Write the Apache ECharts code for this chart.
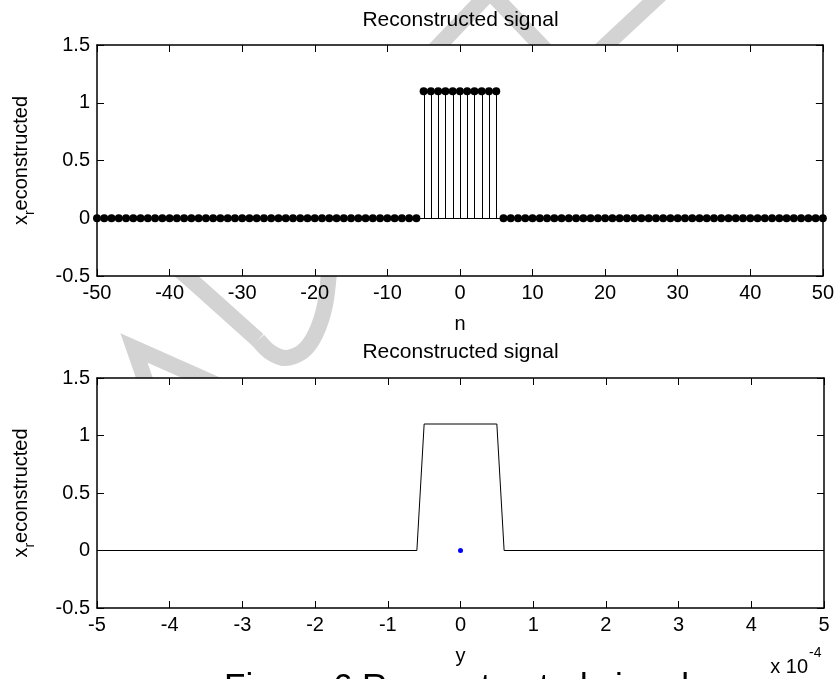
<!DOCTYPE html>
<html><head><meta charset="utf-8">
<script src="https://cdn.jsdelivr.net/npm/echarts@6/dist/echarts.min.js"></script>
<style>html,body{margin:0;padding:0;background:#fff}#c{width:837px;height:679px}</style>
</head><body><div id="c"></div>
<script>
// ---- data ----
const nSamples = [-50,-49,-48,-47,-46,-45,-44,-43,-42,-41,-40,-39,-38,-37,-36,-35,-34,-33,-32,-31,-30,-29,-28,-27,-26,-25,-24,-23,-22,-21,-20,-19,-18,-17,-16,-15,-14,-13,-12,-11,-10,-9,-8,-7,-6,-5,-4,-3,-2,-1,0,1,2,3,4,5,6,7,8,9,10,11,12,13,14,15,16,17,18,19,20,21,22,23,24,25,26,27,28,29,30,31,32,33,34,35,36,37,38,39,40,41,42,43,44,45,46,47,48,49,50];
const xrValues = [0,0,0,0,0,0,0,0,0,0,0,0,0,0,0,0,0,0,0,0,0,0,0,0,0,0,0,0,0,0,0,0,0,0,0,0,0,0,0,0,0,0,0,0,0,1.1,1.1,1.1,1.1,1.1,1.1,1.1,1.1,1.1,1.1,1.1,0,0,0,0,0,0,0,0,0,0,0,0,0,0,0,0,0,0,0,0,0,0,0,0,0,0,0,0,0,0,0,0,0,0,0,0,0,0,0,0,0,0,0,0,0];
const tValues = [-5e-4, -6e-5, -5e-5, 5e-5, 6e-5, 5e-4];
const xtValues = [0, 0, 1.1, 1.1, 0, 0];
const dotX = [0];
const dotY = [0];
const yTicks = [-0.5, 0, 0.5, 1, 1.5];
const nTicks = [-50, -40, -30, -20, -10, 0, 10, 20, 30, 40, 50];
const tTicks = [-5e-4, -4e-4, -3e-4, -2e-4, -1e-4, 0, 1e-4, 2e-4, 3e-4, 4e-4, 5e-4];
const tTickLabels = ['-5', '-4', '-3', '-2', '-1', '0', '1', '2', '3', '4', '5'];
const plotTitle = 'Reconstructed signal';
const yName = ['x', 'r', 'econstructed'];
const xNameTop = 'n';
const xNameBottom = 'y';
const caption = 'Figure 6 Reconstructed signal';

// ---- chart ----
const FONT = '"Liberation Sans", Arial, Helvetica, sans-serif';
const chart = echarts.init(document.getElementById('c'), null, {renderer: 'canvas'});

const G = [
  {left: 97, top: 45, width: 727, height: 231},
  {left: 97, top: 378, width: 727, height: 230}
];

function axisBase(extra) {
  return Object.assign({
    type: 'value', z: 6,
    axisLine: {show: true, onZero: false, lineStyle: {color: '#000', width: 1.5}},
    axisTick: {show: true, inside: true, length: 7, lineStyle: {color: '#000', width: 1}},
    splitLine: {show: false},
    axisLabel: {color: '#000', fontSize: 20, fontFamily: FONT, margin: 7, showMinLabel: true, showMaxLabel: true}
  }, extra);
}

const stemData = nSamples.map((v, i) => [v, xrValues[i]]);
const lineData = tValues.map((v, i) => [v, xtValues[i]]);
const dotData = dotX.map((v, i) => [v, dotY[i]]);

const ctx = document.createElement('canvas').getContext('2d');
function w(text, size) { ctx.font = size + 'px ' + FONT; return ctx.measureText(text).width; }

function yLabelGroup(cy) {
  const s1 = 20, s2 = 14;
  const w0 = w(yName[0], s1), w1 = w(yName[1], s2), w2 = w(yName[2], s1);
  const total = w0 + w1 + w2;
  const x0 = -total / 2;
  return {
    type: 'group', x: 21, y: cy, rotation: Math.PI / 2, z: 10,
    children: [
      {type: 'text', x: x0, y: 0, style: {text: yName[0], font: s1 + 'px ' + FONT, fill: '#000', textAlign: 'left', textVerticalAlign: 'middle'}},
      {type: 'text', x: x0 + w0, y: 9, style: {text: yName[1], font: s2 + 'px ' + FONT, fill: '#000', textAlign: 'left', textVerticalAlign: 'middle'}},
      {type: 'text', x: x0 + w0 + w1, y: 0, style: {text: yName[2], font: s1 + 'px ' + FONT, fill: '#000', textAlign: 'left', textVerticalAlign: 'middle'}}
    ]
  };
}

const wm = {stroke: '#d3d3d3', lineWidth: 16, fill: null, lineJoin: 'miter', lineCap: 'butt'};
const option = {
  backgroundColor: '#fff',
  animation: false,
  grid: G.map(g => Object.assign({show: true, backgroundColor: '#fff', borderWidth: 0, z: 0}, g)),
  xAxis: [
    axisBase({gridIndex: 0, position: 'bottom', min: nTicks[0], max: nTicks[nTicks.length - 1], interval: 10,
      name: xNameTop, nameLocation: 'middle', nameGap: 38, nameTextStyle: {color: '#000', fontSize: 20, fontFamily: FONT}}),
    axisBase({gridIndex: 0, position: 'top', min: nTicks[0], max: nTicks[nTicks.length - 1], interval: 10, axisLabel: {show: false}}),
    axisBase({gridIndex: 1, position: 'bottom', min: tTicks[0], max: tTicks[tTicks.length - 1], interval: 1e-4,
      axisLabel: {color: '#000', fontSize: 20, fontFamily: FONT, margin: 7, showMinLabel: true, showMaxLabel: true,
        formatter: v => { const i = tTicks.findIndex(t => Math.abs(t - v) < 1e-9); return i >= 0 ? tTickLabels[i] : ''; }},
      name: xNameBottom, nameLocation: 'middle', nameGap: 38, nameTextStyle: {color: '#000', fontSize: 20, fontFamily: FONT}}),
    axisBase({gridIndex: 1, position: 'top', min: tTicks[0], max: tTicks[tTicks.length - 1], interval: 1e-4, axisLabel: {show: false}})
  ],
  yAxis: [
    axisBase({gridIndex: 0, position: 'left', min: yTicks[0], max: yTicks[yTicks.length - 1], interval: 0.5}),
    axisBase({gridIndex: 0, position: 'right', min: yTicks[0], max: yTicks[yTicks.length - 1], interval: 0.5, axisLabel: {show: false}}),
    axisBase({gridIndex: 1, position: 'left', min: yTicks[0], max: yTicks[yTicks.length - 1], interval: 0.5}),
    axisBase({gridIndex: 1, position: 'right', min: yTicks[0], max: yTicks[yTicks.length - 1], interval: 0.5, axisLabel: {show: false}})
  ],
  series: [
    {
      type: 'custom', xAxisIndex: 0, yAxisIndex: 0, data: stemData, z: 3,
      renderItem: function (params, api) {
        const x = api.value(0), y = api.value(1);
        if (y === 0) return null;
        const p0 = api.coord([x, 0]), p1 = api.coord([x, y]);
        const px = Math.round(p0[0]) + 0.5;
        return {type: 'line', shape: {x1: px, y1: p0[1], x2: px, y2: p1[1]}, style: {stroke: '#000', lineWidth: 1}};
      },
      markLine: {silent: true, symbol: 'none', animation: false, label: {show: false},
        lineStyle: {color: '#000', width: 1, type: 'solid'}, data: [{yAxis: 0}]}
    },
    {type: 'scatter', xAxisIndex: 0, yAxisIndex: 0, data: stemData, symbol: 'circle', symbolSize: 8,
      itemStyle: {color: '#000', opacity: 1}, z: 4, silent: true},
    {type: 'line', xAxisIndex: 2, yAxisIndex: 2, data: lineData, showSymbol: false, symbol: 'none',
      lineStyle: {color: '#000', width: 1}, z: 3, silent: true},
    {type: 'scatter', xAxisIndex: 2, yAxisIndex: 2, data: dotData, symbol: 'circle', symbolSize: 5,
      itemStyle: {color: '#0000ff', opacity: 1}, z: 4, silent: true}
  ],
  graphic: [
    // watermark strokes (behind the axes)
    {type: 'polyline', z: -5, shape: {points: [[140, 235], [200, 288], [258, 340]]}, style: wm},
    {type: 'polyline', z: -5, shape: {points: [[258, 340], [270, 352], [285, 358], [302, 352], [315, 335], [325, 305], [330, 260]], smooth: 0.3}, style: wm},
    {type: 'polyline', z: -5, shape: {points: [[152, 400], [134, 348], [240, 395]]}, style: wm},
    {type: 'polyline', z: -5, shape: {points: [[425, 60], [490, -8], [555, 60]]}, style: wm},
    {type: 'polyline', z: -5, shape: {points: [[590, 60], [665, -10]]}, style: wm},
    // titles
    {type: 'text', x: 460.5, y: 20, z: 10, style: {text: plotTitle, font: '21px ' + FONT, fill: '#000', textAlign: 'center', textVerticalAlign: 'middle'}},
    {type: 'text', x: 460.5, y: 352, z: 10, style: {text: plotTitle, font: '21px ' + FONT, fill: '#000', textAlign: 'center', textVerticalAlign: 'middle'}},
    yLabelGroup(160.5),
    yLabelGroup(493),
    // x 10^-4
    {type: 'text', x: 808, y: 667, z: 10, style: {text: 'x 10', font: '20px ' + FONT, fill: '#000', textAlign: 'right', textVerticalAlign: 'middle'}},
    {type: 'text', x: 809, y: 653, z: 10, style: {text: '-4', font: '14px ' + FONT, fill: '#000', textAlign: 'left', textVerticalAlign: 'middle'}},
    // caption
    {type: 'text', x: 224, y: 671, z: 10, style: {text: caption, font: '35px ' + FONT, fill: '#000', textAlign: 'left', textVerticalAlign: 'top'}}
  ]
};
chart.setOption(option);
</script>
</body></html>
